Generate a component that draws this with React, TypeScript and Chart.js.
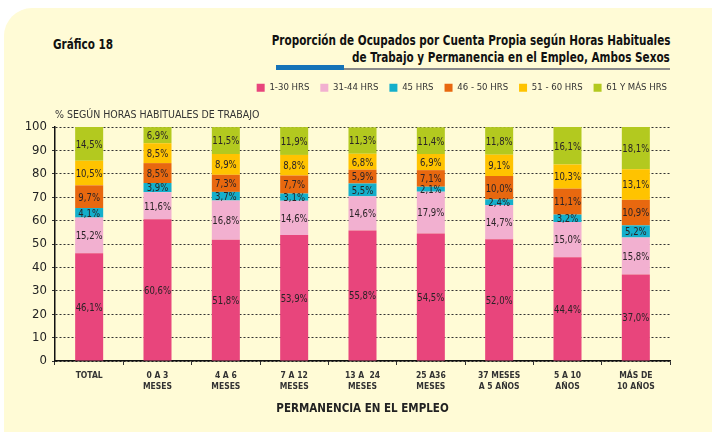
import React, { useEffect, useRef } from "react";
import { Chart, registerables } from "chart.js";

Chart.register(...registerables);

const categories: string[][] = [
  ["TOTAL"],
  ["0 A 3", "MESES"],
  ["4 A 6", "MESES"],
  ["7 A 12", "MESES"],
  ["13 A  24", "MESES"],
  ["25 A36", "MESES"],
  ["37 MESES", "A 5 AÑOS"],
  ["5 A 10", "AÑOS"],
  ["MÁS DE", "10 AÑOS"],
];

const seriesNames = ["1-30 HRS", "31-44 HRS", "45 HRS", "46 - 50 HRS", "51 - 60 HRS", "61 Y MÁS HRS"];
const seriesColors = ["#E8457C", "#F2B0D0", "#14AFCB", "#E8680F", "#FFC300", "#B3C91F"];

const hrs1to30 = [46.1, 60.6, 51.8, 53.9, 55.8, 54.5, 52.0, 44.4, 37.0];
const hrs31to44 = [15.2, 11.6, 16.8, 14.6, 14.6, 17.9, 14.7, 15.0, 15.8];
const hrs45 = [4.1, 3.9, 3.7, 3.1, 5.5, 2.1, 2.4, 3.2, 5.2];
const hrs46to50 = [9.7, 8.5, 7.3, 7.7, 5.9, 7.1, 10.0, 11.1, 10.9];
const hrs51to60 = [10.5, 8.5, 8.9, 8.8, 6.8, 6.9, 9.1, 10.3, 13.1];
const hrs61plus = [14.5, 6.9, 11.5, 11.9, 11.3, 11.4, 11.8, 16.1, 18.1];

const seriesValues = [hrs1to30, hrs31to44, hrs45, hrs46to50, hrs51to60, hrs61plus];

const yTicks = [0, 10, 20, 30, 40, 50, 60, 70, 80, 90, 100];

const FONT = "'Liberation Sans Narrow', 'DejaVu Sans Condensed', 'Roboto Condensed', 'Arial Narrow', 'Liberation Sans', sans-serif";

const fmt = (v: number) => v.toFixed(1).replace(".", ",") + "%";

const valueLabels = {
  id: "valueLabels",
  afterDatasetsDraw(chart: any) {
    const ctx = chart.ctx;
    ctx.save();
    ctx.font = `11px ${FONT}`;
    ctx.fillStyle = "#2a2326";
    ctx.textAlign = "center";
    ctx.textBaseline = "middle";
    chart.data.datasets.forEach((ds: any, i: number) => {
      const meta = chart.getDatasetMeta(i);
      meta.data.forEach((el: any, j: number) => {
        const p = el.getProps(["x", "y", "base"], true);
        const top = Math.max(p.y, chart.chartArea.top);
        const txt = fmt(ds.data[j]);
        const w = ctx.measureText(txt).width * 0.86;
        ctx.fillText(txt, p.x, (top + p.base) / 2 + 1, w);
      });
    });
    ctx.restore();
  },
};

export default function App() {
  const ref = useRef<HTMLCanvasElement>(null);
  useEffect(() => {
    if (!ref.current) return;
    Chart.defaults.font.family = FONT;
    const chart = new Chart(ref.current, {
      type: "bar",
      data: {
        labels: categories,
        datasets: seriesNames.map((name, i) => ({
          label: name,
          data: seriesValues[i],
          backgroundColor: seriesColors[i],
          borderWidth: 0,
          categoryPercentage: 1,
          barPercentage: 0.41,
        })),
      },
      options: {
        animation: false,
        responsive: false,
        maintainAspectRatio: false,
        layout: { padding: { top: 72, left: 10, right: 34, bottom: 0 } },
        plugins: {
          legend: {
            display: true,
            position: "top",
            align: "end",
            labels: {
              boxWidth: 8,
              boxHeight: 8,
              padding: 11,
              color: "#333",
              font: { size: 9.5, family: FONT },
            },
          },
          title: {
            display: true,
            text: "% SEGÚN HORAS HABITUALES DE TRABAJO",
            align: "start",
            position: "top",
            fullSize: false,
            weight: 100,
            color: "#333",
            font: { size: 10.5, weight: "normal", family: FONT },
            padding: { top: 6, bottom: 6 },
          },
          tooltip: { enabled: false },
        },
        scales: {
          x: {
            stacked: true,
            grid: {
              display: true,
              drawOnChartArea: false,
              drawTicks: true,
              tickLength: 4,
              color: "#333",
              offset: true,
            },
            border: { display: true, color: "#111", width: 1.5 },
            ticks: {
              color: "#333",
              font: { size: 8.5, weight: "bold", family: FONT },
              padding: 6,
              maxRotation: 0,
              autoSkip: false,
            },
            title: {
              display: true,
              text: "PERMANENCIA EN EL EMPLEO",
              color: "#222",
              font: { size: 11.5, weight: "bold", family: FONT },
              padding: { top: 0, bottom: 16 },
            },
            afterFit(scale: any) {
              scale.height = 71;
            },
          },
          y: {
            stacked: true,
            min: 0,
            max: 100,
            afterBuildTicks(scale: any) {
              scale.ticks = yTicks.map((v) => ({ value: v }));
            },
            grid: {
              color: "#333",
              lineWidth: 1,
              drawTicks: true,
              tickLength: 3,
            },
            border: { display: true, color: "#111", width: 1.5, dash: [2, 2] },
            ticks: {
              color: "#222",
              font: { size: 13, family: FONT },
              padding: 5,
            },
            afterFit(scale: any) {
              scale.width = 45;
            },
          },
          yPad: {
            type: "linear",
            position: "right",
            display: true,
            grid: { display: false, drawTicks: false },
            border: { display: false },
            ticks: { display: false },
            afterFit(scale: any) {
              scale.width = 8;
            },
          },
        },
      },
      plugins: [valueLabels],
    });
    return () => chart.destroy();
  }, []);

  const narrow = { display: "inline-block", whiteSpace: "nowrap" as const, transform: "scaleX(0.83)" };

  return (
    <div style={{ position: "fixed", left: 0, top: 0, width: 712, height: 432, overflow: "hidden", background: "#fff" }}>
      <div
        style={{
          position: "absolute",
          left: 4,
          top: 8,
          width: 740,
          height: 460,
          borderRadius: 28,
          background: "#FFFBD6",
        }}
      />
      <div
        style={{
          position: "absolute",
          left: 53,
          top: 36,
          fontFamily: FONT,
          fontWeight: "bold",
          fontSize: 14,
          color: "#111",
          whiteSpace: "nowrap",
        }}
      >
        <span style={{ ...narrow, transformOrigin: "left center" }}>Gráfico 18</span>
      </div>
      <div
        style={{
          position: "absolute",
          right: 42,
          top: 32,
          width: 600,
          textAlign: "right",
          fontFamily: FONT,
          fontWeight: "bold",
          fontSize: 14,
          lineHeight: "17px",
          color: "#111",
        }}
      >
        <span style={{ ...narrow, transformOrigin: "right center" }}>
          Proporción de Ocupados por Cuenta Propia según Horas Habituales
        </span>
        <br />
        <span style={{ ...narrow, transformOrigin: "right center" }}>
          de Trabajo y Permanencia en el Empleo, Ambos Sexos
        </span>
      </div>
      <div style={{ position: "absolute", left: 276, top: 68, width: 394, height: 1.5, background: "#8a8a8a" }} />
      <div style={{ position: "absolute", left: 276, top: 65, width: 68, height: 5, background: "#1573B8" }} />
      <canvas ref={ref} width={712} height={432} style={{ position: "absolute", left: 0, top: 0 }} />
    </div>
  );
}
